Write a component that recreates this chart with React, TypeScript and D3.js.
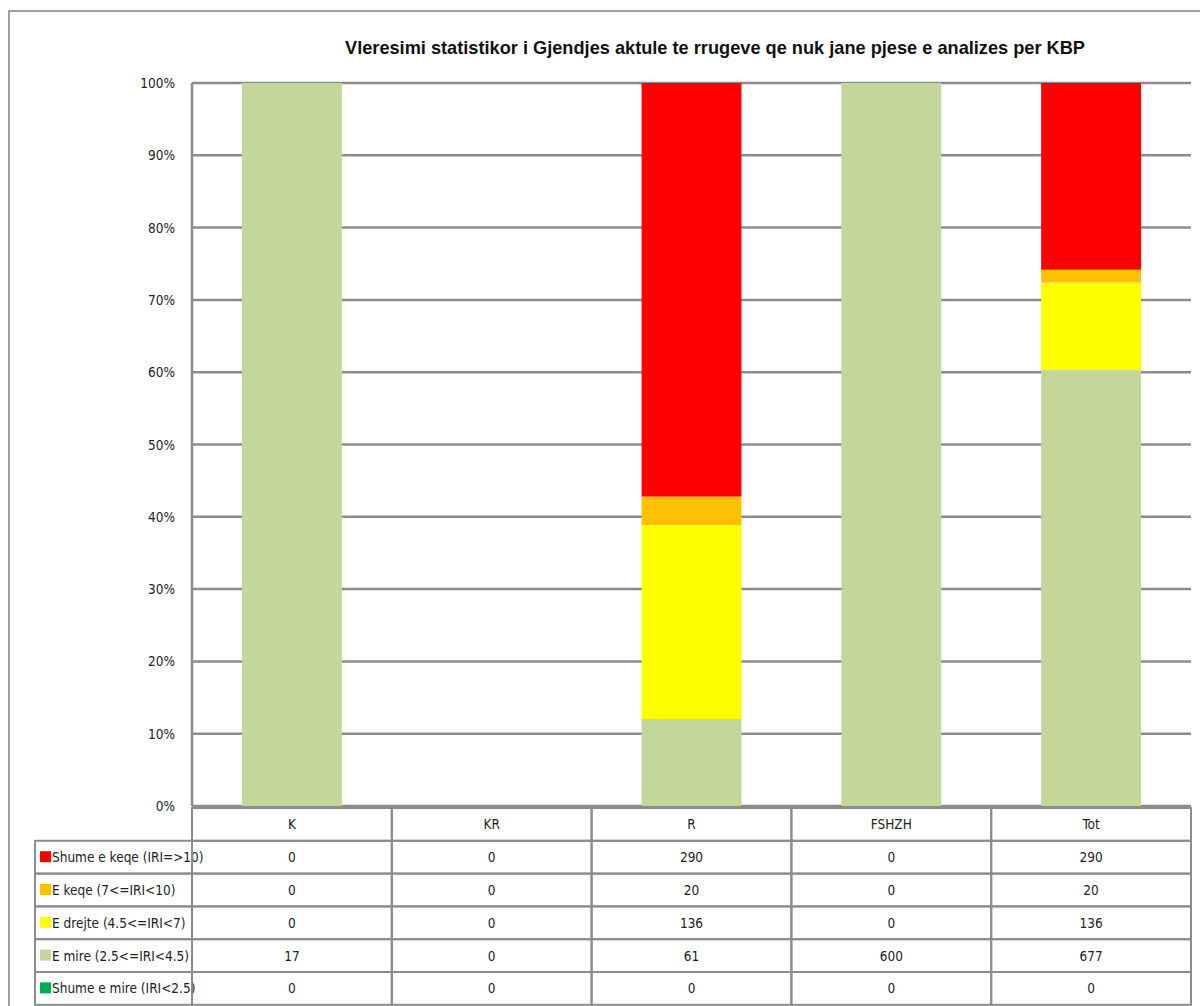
import React, { useEffect, useRef } from "react";
import * as d3 from "d3";

// categories along x
const categories = ["K", "KR", "R", "FSHZH", "Tot"];

// series, listed top-down as in the data table
const seriesNames = [
  "Shume e keqe (IRI=>10)",
  "E keqe  (7<=IRI<10)",
  "E drejte (4.5<=IRI<7)",
  "E mire  (2.5<=IRI<4.5)",
  "Shume e mire (IRI<2.5)",
];
const seriesColors = ["#FF0000", "#FFC000", "#FFFF00", "#C4D79B", "#00B050"];

const shumeKeqe = [0, 0, 290, 0, 290];
const keqe = [0, 0, 20, 0, 20];
const drejte = [0, 0, 136, 0, 136];
const mire = [17, 0, 61, 600, 677];
const shumeMire = [0, 0, 0, 0, 0];
const seriesValues = [shumeKeqe, keqe, drejte, mire, shumeMire];

const yTicks = [0, 0.1, 0.2, 0.3, 0.4, 0.5, 0.6, 0.7, 0.8, 0.9, 1];

const title = "Vleresimi statistikor i Gjendjes aktule te rrugeve qe nuk jane pjese e analizes  per KBP";

const App = () => {
  const ref = useRef<SVGSVGElement>(null);

  useEffect(() => {
    const svg = d3.select(ref.current);
    svg.selectAll("*").remove();

    const left = 192;
    const right = 1191;
    const top = 83;
    const bottom = 806;
    const font = "'DejaVu Sans Condensed', 'Liberation Sans Narrow', sans-serif";
    const grid = "#8c8c8c";

    // outer chart frame
    svg.append("path")
      .attr("d", "M9,1006 V11 H1200")
      .attr("fill", "none")
      .attr("stroke", "#a0a0a0")
      .attr("stroke-width", 2);

    svg.append("text")
      .attr("x", 715)
      .attr("y", 54)
      .attr("text-anchor", "middle")
      .attr("font-family", "'Liberation Sans', Arial, sans-serif")
      .attr("font-weight", "bold")
      .attr("font-size", 19)
      .attr("textLength", 740)
      .attr("lengthAdjust", "spacingAndGlyphs")
      .attr("fill", "#111")
      .text(title);

    const x = d3.scaleBand().domain(categories).range([left, right]).paddingInner(0.5).paddingOuter(0.25);
    const xCell = d3.scaleBand().domain(categories).range([left, right]);
    const y = d3.scaleLinear().domain([0, 1]).range([bottom, top]);

    // gridlines
    svg.append("g")
      .selectAll("line")
      .data(yTicks)
      .join("line")
      .attr("x1", left)
      .attr("x2", right)
      .attr("y1", (d) => y(d))
      .attr("y2", (d) => y(d))
      .attr("stroke", grid)
      .attr("stroke-width", 2.5);

    svg.append("line")
      .attr("x1", left).attr("x2", left)
      .attr("y1", top).attr("y2", bottom)
      .attr("stroke", grid).attr("stroke-width", 2.5);

    svg.append("g")
      .selectAll("text")
      .data(yTicks)
      .join("text")
      .attr("x", 175)
      .attr("y", (d) => y(d) + 5)
      .attr("text-anchor", "end")
      .attr("font-family", font)
      .attr("font-size", 13.5)
      .attr("fill", "#222")
      .text((d) => d3.format(".0%")(d));

    // stacked 100% bars, bottom series first
    const keys = [...seriesNames].reverse();
    const rows = categories.map((c, i) => {
      const r: any = { cat: c };
      seriesNames.forEach((s, j) => (r[s] = seriesValues[j][i]));
      return r;
    });
    const stacked = d3.stack().keys(keys).offset(d3.stackOffsetExpand)(rows);

    svg.append("g")
      .selectAll("g")
      .data(stacked)
      .join("g")
      .attr("fill", (d) => seriesColors[seriesNames.indexOf(d.key)])
      .selectAll("rect")
      .data((d) => d)
      .join("rect")
      .attr("x", (d: any) => x(d.data.cat)!)
      .attr("width", x.bandwidth())
      .attr("y", (d) => y(d[1]))
      .attr("height", (d) => Math.max(0, y(d[0]) - y(d[1])));

    // data table
    const rowH = 32.8;
    const headTop = 808;
    const legendLeft = 35;
    const tbl = svg.append("g");

    tbl.selectAll("rect.head")
      .data(categories)
      .join("rect")
      .attr("class", "head")
      .attr("x", (d) => xCell(d)!)
      .attr("y", headTop)
      .attr("width", xCell.bandwidth())
      .attr("height", rowH)
      .attr("fill", "none")
      .attr("stroke", grid)
      .attr("stroke-width", 2);

    tbl.selectAll("text.head")
      .data(categories)
      .join("text")
      .attr("class", "head")
      .attr("x", (d) => xCell(d)! + xCell.bandwidth() / 2)
      .attr("y", headTop + rowH / 2 + 5)
      .attr("text-anchor", "middle")
      .attr("font-family", font)
      .attr("font-size", 13.5)
      .attr("fill", "#222")
      .text((d) => d);

    seriesNames.forEach((s, j) => {
      const ry = headTop + rowH * (j + 1);
      tbl.append("rect")
        .attr("x", legendLeft)
        .attr("y", ry)
        .attr("width", left - legendLeft)
        .attr("height", rowH)
        .attr("fill", "none")
        .attr("stroke", grid)
        .attr("stroke-width", 2);
      tbl.append("rect")
        .attr("x", legendLeft + 5)
        .attr("y", ry + rowH / 2 - 6)
        .attr("width", 11)
        .attr("height", 11)
        .attr("fill", seriesColors[j]);
      tbl.append("text")
        .attr("x", legendLeft + 17)
        .attr("y", ry + rowH / 2 + 5)
        .attr("font-family", font)
        .attr("font-size", 13.5)
        .attr("fill", "#222")
        .text(s);

      categories.forEach((c, i) => {
        tbl.append("rect")
          .attr("x", xCell(c)!)
          .attr("y", ry)
          .attr("width", xCell.bandwidth())
          .attr("height", rowH)
          .attr("fill", "none")
          .attr("stroke", grid)
          .attr("stroke-width", 2);
        tbl.append("text")
          .attr("x", xCell(c)! + xCell.bandwidth() / 2)
          .attr("y", ry + rowH / 2 + 5)
          .attr("text-anchor", "middle")
          .attr("font-family", font)
          .attr("font-size", 13.5)
          .attr("fill", "#222")
          .text(seriesValues[j][i]);
      });
    });
  }, []);

  return (
    <svg
      ref={ref}
      width={1200}
      height={1006}
      style={{ position: "absolute", left: 0, top: 0, background: "#fff" }}
    />
  );
};

export default App;
